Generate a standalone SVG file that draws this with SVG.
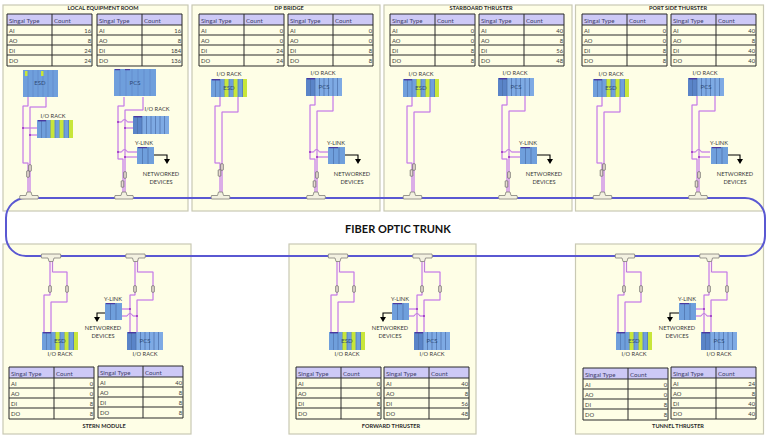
<svg xmlns="http://www.w3.org/2000/svg" xmlns:xlink="http://www.w3.org/1999/xlink" width="768" height="436" viewBox="0 0 768 436">
<style>
text{font-family:Lato,"Liberation Sans",sans-serif;fill:#3a3a3a;font-size:5.7px}
.pn{fill:#fefee6;stroke:#c9c9b4;stroke-width:1.2}
.ti{font-weight:700;font-size:5.6px;text-anchor:middle;fill:#2a2a2a}
.lb{text-anchor:middle}
.h{font-size:6.2px;fill:#40406a}
.c{font-size:5.8px}
.v{font-size:5.8px;text-anchor:end}
.rt{text-anchor:middle;font-size:6px;fill:#2f4a78}
.hd{fill:#cdc9f6}
.gl{fill:none;stroke:#2b2b2b;stroke-width:1}
.halo{fill:none;stroke:#f8d8f8;stroke-width:2}
.wire{fill:none;stroke:#b878d4;stroke-width:.9}
.dot{fill:#9a2cc0}
.res{fill:#eadcd4;stroke:#5c5c5c;stroke-width:.7}
.tee{fill:#f3f1e0;stroke:#807f78;stroke-width:.8}
.trunk{fill:none;stroke:#5a58d2;stroke-width:2}
.arrow{fill:none;stroke:#000;stroke-width:1.1;marker-end:url(#ah)}
.bl{fill:#6f9fdc}.bd{fill:#5a84c8}.bs{fill:#7eaae4}.li{fill:#c8e63a}.tp{fill:#4a3aa0}
</style>
<defs>
<marker id="ah" markerWidth="6" markerHeight="6" refX="1.5" refY="3" orient="auto" markerUnits="userSpaceOnUse" viewBox="0 0 6 6"><path d="M0 0L5 3L0 6Z" fill="#000"/></marker>
<g id="grid">
<rect class="hd" x="0" y="0" width="85" height="11"/>
<path class="gl" d="M0 0H85V52H0ZM0 11H85M0 21H85M0 31H85M0 41H85M45 0V52"/>
</g>
<g id="rack-esd">
<rect class="bl" width="36" height="18"/>
<path d="M4.5 0V18M9 0V18M13.5 0V18M18 0V18M22.5 0V18M27 0V18M31.5 0V18" stroke="#4a6ea8" stroke-width=".6"/>
<rect class="li" x="13.5" width="4" height="18"/><rect class="li" x="22.5" width="4" height="18"/><rect class="li" x="32" width="4" height="18"/>
<rect class="tp" x="1" width="8" height="1.4"/>
</g>
<g id="rack-pcs">
<rect class="bs" width="36" height="18"/>
<rect class="bd" width="9" height="18"/>
<path d="M4.5 0V18M9 0V18M13.5 0V18M18 0V18M22.5 0V18M27 0V18M31.5 0V18" stroke="#4a6ea8" stroke-width=".7"/>
<rect class="tp" x="1" width="8" height="1.4"/>
</g>
<g id="ylink">
<rect class="bl" width="17" height="17"/>
<path d="M5.5 0V17M11 0V17" stroke="#4a6ea8" stroke-width=".7"/>
<rect class="tp" x="1" width="9" height="1.2"/>
</g>
<g id="tee-top"><path class="tee" d="M-9 3.5H-3L-2 0H2L3 3.5H9Q9.8 5.2 9 7H-9Q-9.8 5.2 -9 3.5Z"/></g>
<g id="tee-bot"><path class="tee" d="M-9.5 0H9.5Q10.2 2 9.5 4H3L2 7.5H-2L-3 4H-9.5Q-10.2 2 -9.5 0Z"/></g>
<rect id="res" class="res" x="-1.3" y="-3.2" width="2.6" height="6.4" rx=".6"/>
<path id="d-te1" d="M220 97V106H215V163H220V197"/>
<path id="d-te2" d="M238 97V112H222V197"/>
<path id="d-tp1" d="M315 96V105H310V159H315V197"/>
<path id="d-tp2" d="M333 96V111H317V197"/>
<path id="d-ty" d="M310 152H313.5Q316.5 147 319.5 152H328M317 157H328"/>
<path id="d-be1" d="M337 258V295H331V332"/>
<path id="d-be2" d="M339.5 258V272H354V302H338V332"/>
<path id="d-bp1" d="M422 258V295H417V332"/>
<path id="d-bp2" d="M424.5 258V272H440V300H424V332"/>
<path id="d-by" d="M417 309H409M424 316H420Q417 311 414 316H409"/>
<g id="w-te"><use href="#d-te1" class="halo"/><use href="#d-te2" class="halo"/><use href="#d-te1" class="wire"/><use href="#d-te2" class="wire"/><use href="#res" x="222" y="167"/><use href="#res" x="219.5" y="173"/><use href="#tee-top" x="220.5" y="192"/></g>
<g id="w-tp"><use href="#d-tp1" class="halo"/><use href="#d-tp2" class="halo"/><use href="#d-ty" class="halo"/><use href="#d-tp1" class="wire"/><use href="#d-tp2" class="wire"/><use href="#d-ty" class="wire"/><circle class="dot" cx="310" cy="152" r="1"/><circle class="dot" cx="317" cy="157" r="1"/><use href="#res" x="317" y="175"/><use href="#res" x="314.5" y="184"/><use href="#tee-top" x="316" y="192"/></g>
<g id="w-be"><use href="#d-be1" class="halo"/><use href="#d-be2" class="halo"/><use href="#d-be1" class="wire"/><use href="#d-be2" class="wire"/><use href="#res" x="337" y="289"/><use href="#res" x="354" y="289"/><use href="#tee-bot" x="338" y="254"/></g>
<g id="w-bp"><use href="#d-bp1" class="halo"/><use href="#d-bp2" class="halo"/><use href="#d-by" class="halo"/><use href="#d-bp1" class="wire"/><use href="#d-bp2" class="wire"/><use href="#d-by" class="wire"/><circle class="dot" cx="417" cy="309" r="1"/><circle class="dot" cx="424" cy="316" r="1"/><use href="#res" x="422" y="289"/><use href="#res" x="440" y="289"/><use href="#tee-bot" x="422.5" y="254"/></g>
</defs>
<rect width="768" height="436" fill="#fff"/>

<g id="local-equipment-room">
<rect class="pn" x="3" y="5" width="185" height="206"/>
<text class="ti" x="103" y="10">LOCAL EQUIPMENT ROOM</text>
<g transform="translate(7 14)"><use href="#grid"/><text class="h" x="2" y="8.5">Singal Type</text><text class="h" x="47" y="8.5">Count</text><text class="c" x="2" y="18.5">AI</text><text class="v" x="84" y="18.5">16</text><text class="c" x="2" y="28.5">AO</text><text class="v" x="84" y="28.5">8</text><text class="c" x="2" y="38.5">DI</text><text class="v" x="84" y="38.5">24</text><text class="c" x="2" y="49">DO</text><text class="v" x="84" y="49">24</text></g>
<g transform="translate(97 14)"><use href="#grid"/><text class="h" x="2" y="8.5">Singal Type</text><text class="h" x="47" y="8.5">Count</text><text class="c" x="2" y="18.5">AI</text><text class="v" x="84" y="18.5">16</text><text class="c" x="2" y="28.5">AO</text><text class="v" x="84" y="28.5">8</text><text class="c" x="2" y="38.5">DI</text><text class="v" x="84" y="38.5">184</text><text class="c" x="2" y="49">DO</text><text class="v" x="84" y="49">136</text></g>
</g>
<g id="dp-bridge">
<rect class="pn" x="192" y="5" width="188" height="206"/>
<text class="ti" x="289" y="10">DP BRIDGE</text>
<g transform="translate(199 14)"><use href="#grid"/><text class="h" x="2" y="8.5">Singal Type</text><text class="h" x="47" y="8.5">Count</text><text class="c" x="2" y="18.5">AI</text><text class="v" x="84" y="18.5">0</text><text class="c" x="2" y="28.5">AO</text><text class="v" x="84" y="28.5">0</text><text class="c" x="2" y="38.5">DI</text><text class="v" x="84" y="38.5">24</text><text class="c" x="2" y="49">DO</text><text class="v" x="84" y="49">24</text></g>
<g transform="translate(288 14)"><use href="#grid"/><text class="h" x="2" y="8.5">Singal Type</text><text class="h" x="47" y="8.5">Count</text><text class="c" x="2" y="18.5">AI</text><text class="v" x="84" y="18.5">0</text><text class="c" x="2" y="28.5">AO</text><text class="v" x="84" y="28.5">0</text><text class="c" x="2" y="38.5">DI</text><text class="v" x="84" y="38.5">8</text><text class="c" x="2" y="49">DO</text><text class="v" x="84" y="49">8</text></g>
</g>
<g id="starboard-thruster">
<rect class="pn" x="384" y="5" width="188" height="206"/>
<text class="ti" x="481" y="10">STARBOARD THRUSTER</text>
<g transform="translate(390 14)"><use href="#grid"/><text class="h" x="2" y="8.5">Singal Type</text><text class="h" x="47" y="8.5">Count</text><text class="c" x="2" y="18.5">AI</text><text class="v" x="84" y="18.5">0</text><text class="c" x="2" y="28.5">AO</text><text class="v" x="84" y="28.5">0</text><text class="c" x="2" y="38.5">DI</text><text class="v" x="84" y="38.5">8</text><text class="c" x="2" y="49">DO</text><text class="v" x="84" y="49">8</text></g>
<g transform="translate(479 14)"><use href="#grid"/><text class="h" x="2" y="8.5">Singal Type</text><text class="h" x="47" y="8.5">Count</text><text class="c" x="2" y="18.5">AI</text><text class="v" x="84" y="18.5">40</text><text class="c" x="2" y="28.5">AO</text><text class="v" x="84" y="28.5">8</text><text class="c" x="2" y="38.5">DI</text><text class="v" x="84" y="38.5">56</text><text class="c" x="2" y="49">DO</text><text class="v" x="84" y="49">48</text></g>
</g>
<g id="port-side-thurster">
<rect class="pn" x="575.5" y="5" width="188" height="206"/>
<text class="ti" x="678" y="10">PORT SIDE THURSTER</text>
<g transform="translate(582 14)"><use href="#grid"/><text class="h" x="2" y="8.5">Singal Type</text><text class="h" x="47" y="8.5">Count</text><text class="c" x="2" y="18.5">AI</text><text class="v" x="84" y="18.5">0</text><text class="c" x="2" y="28.5">AO</text><text class="v" x="84" y="28.5">0</text><text class="c" x="2" y="38.5">DI</text><text class="v" x="84" y="38.5">8</text><text class="c" x="2" y="49">DO</text><text class="v" x="84" y="49">8</text></g>
<g transform="translate(671 14)"><use href="#grid"/><text class="h" x="2" y="8.5">Singal Type</text><text class="h" x="47" y="8.5">Count</text><text class="c" x="2" y="18.5">AI</text><text class="v" x="84" y="18.5">40</text><text class="c" x="2" y="28.5">AO</text><text class="v" x="84" y="28.5">8</text><text class="c" x="2" y="38.5">DI</text><text class="v" x="84" y="38.5">40</text><text class="c" x="2" y="49">DO</text><text class="v" x="84" y="49">40</text></g>
</g>
<g id="stern-module">
<rect class="pn" x="3" y="244" width="188" height="190"/>
<text class="ti" x="104" y="428">STERN MODULE</text>
<g transform="translate(9 367)"><use href="#grid"/><text class="h" x="2" y="8.5">Singal Type</text><text class="h" x="47" y="8.5">Count</text><text class="c" x="2" y="18.5">AI</text><text class="v" x="84" y="18.5">0</text><text class="c" x="2" y="28.5">AO</text><text class="v" x="84" y="28.5">0</text><text class="c" x="2" y="38.5">DI</text><text class="v" x="84" y="38.5">8</text><text class="c" x="2" y="49">DO</text><text class="v" x="84" y="49">8</text></g>
<g transform="translate(98 366)"><use href="#grid"/><text class="h" x="2" y="8.5">Singal Type</text><text class="h" x="47" y="8.5">Count</text><text class="c" x="2" y="18.5">AI</text><text class="v" x="84" y="18.5">40</text><text class="c" x="2" y="28.5">AO</text><text class="v" x="84" y="28.5">8</text><text class="c" x="2" y="38.5">DI</text><text class="v" x="84" y="38.5">8</text><text class="c" x="2" y="49">DO</text><text class="v" x="84" y="49">8</text></g>
</g>
<g id="forward-thruster">
<rect class="pn" x="289" y="244" width="187" height="190"/>
<text class="ti" x="391" y="428">FORWARD THRUSTER</text>
<g transform="translate(296 367)"><use href="#grid"/><text class="h" x="2" y="8.5">Singal Type</text><text class="h" x="47" y="8.5">Count</text><text class="c" x="2" y="18.5">AI</text><text class="v" x="84" y="18.5">0</text><text class="c" x="2" y="28.5">AO</text><text class="v" x="84" y="28.5">0</text><text class="c" x="2" y="38.5">DI</text><text class="v" x="84" y="38.5">8</text><text class="c" x="2" y="49">DO</text><text class="v" x="84" y="49">8</text></g>
<g transform="translate(384 367)"><use href="#grid"/><text class="h" x="2" y="8.5">Singal Type</text><text class="h" x="47" y="8.5">Count</text><text class="c" x="2" y="18.5">AI</text><text class="v" x="84" y="18.5">40</text><text class="c" x="2" y="28.5">AO</text><text class="v" x="84" y="28.5">8</text><text class="c" x="2" y="38.5">DI</text><text class="v" x="84" y="38.5">56</text><text class="c" x="2" y="49">DO</text><text class="v" x="84" y="49">48</text></g>
</g>
<g id="tunnel-thruster">
<rect class="pn" x="575.5" y="244" width="188" height="190"/>
<text class="ti" x="678" y="428">TUNNEL THRUSTER</text>
<g transform="translate(583 368)"><use href="#grid"/><text class="h" x="2" y="8.5">Singal Type</text><text class="h" x="47" y="8.5">Count</text><text class="c" x="2" y="18.5">AI</text><text class="v" x="84" y="18.5">0</text><text class="c" x="2" y="28.5">AO</text><text class="v" x="84" y="28.5">0</text><text class="c" x="2" y="38.5">DI</text><text class="v" x="84" y="38.5">8</text><text class="c" x="2" y="49">DO</text><text class="v" x="84" y="49">8</text></g>
<g transform="translate(671 367)"><use href="#grid"/><text class="h" x="2" y="8.5">Singal Type</text><text class="h" x="47" y="8.5">Count</text><text class="c" x="2" y="18.5">AI</text><text class="v" x="84" y="18.5">24</text><text class="c" x="2" y="28.5">AO</text><text class="v" x="84" y="28.5">8</text><text class="c" x="2" y="38.5">DI</text><text class="v" x="84" y="38.5">40</text><text class="c" x="2" y="49">DO</text><text class="v" x="84" y="49">40</text></g>
</g>

<g id="connectors">
<rect id="fiber-trunk-line" class="trunk" x="6" y="198" width="759" height="58" rx="20" ry="20"/>
<!-- local equipment room -->
<path class="halo" d="M28 97V106H23V163H28V197M46 97V107H30V197M23 128H37M30 135H37M124 97V106H118V159H123V197M143 97V110H125V197M118 122H121.5Q124.5 117 127.5 122H133M125 128H133M118 152H121.5Q124.5 147 127.5 152H137M125 157H137"/>
<path class="wire" d="M28 97V106H23V163H28V197M46 97V107H30V197M23 128H37M30 135H37M124 97V106H118V159H123V197M143 97V110H125V197M118 122H121.5Q124.5 117 127.5 122H133M125 128H133M118 152H121.5Q124.5 147 127.5 152H137M125 157H137"/>
<circle class="dot" cx="23" cy="128" r="1"/><circle class="dot" cx="30" cy="135" r="1"/><circle class="dot" cx="118" cy="122" r="1"/><circle class="dot" cx="125" cy="128" r="1"/><circle class="dot" cx="118" cy="152" r="1"/><circle class="dot" cx="125" cy="157" r="1"/>
<use href="#res" x="30" y="168"/><use href="#res" x="28" y="174"/><use href="#res" x="125" y="175"/><use href="#res" x="122.5" y="184"/>
<use href="#tee-top" x="29" y="192"/><use href="#tee-top" x="124" y="192"/>
<path class="arrow" d="M154 155H167V160.5"/>
<!-- dp bridge -->
<use href="#w-te"/><use href="#w-tp"/><path class="arrow" d="M345 155H358V160.5"/>
<!-- starboard -->
<use href="#w-te" transform="translate(192 0)"/><use href="#w-tp" transform="translate(192 0)"/><path class="arrow" d="M537 155H550V160.5"/>
<!-- port side -->
<use href="#w-te" transform="translate(382 0)"/><use href="#w-tp" transform="translate(382 0)"/><path class="arrow" d="M727 155H740V160.5"/>
<!-- stern -->
<use href="#w-be" transform="translate(-287 0)"/><use href="#w-bp" transform="translate(-287 0)"/><path class="arrow" d="M105 313H97V318.5"/>
<!-- forward -->
<use href="#w-be"/><use href="#w-bp"/><path class="arrow" d="M392 313H383V318.5"/>
<!-- tunnel -->
<use href="#w-be" transform="translate(287 0)"/><use href="#w-bp" transform="translate(287 0)"/><path class="arrow" d="M679 313H670V318.5"/>
</g>

<g id="trunk-label"><text x="398" y="233" text-anchor="middle" style="font-size:11px;font-weight:700;fill:#111">FIBER OPTIC TRUNK</text></g>

<g id="ler-esd"><rect class="bl" x="23" y="70" width="35" height="27"/><path d="M28 70V97M33 70V97M38 70V97M43 70V97M48 70V97M53 70V97" stroke="#5a84c8" stroke-width=".6"/><rect class="li" x="25" y="71" width="2.5" height="5"/><rect class="li" x="41" y="71" width="2.5" height="5"/><text class="rt" x="40" y="85">ESD</text></g>
<g id="ler-pcs"><rect class="bl" x="114" y="69" width="42" height="27"/><path d="M120 69V96M126 69V96M132 69V96M138 69V96M144 69V96M150 69V96" stroke="#5a84c8" stroke-width=".6"/><rect class="tp" x="115" y="69" width="5" height="1.2"/><rect class="tp" x="125" y="69" width="5" height="1.2"/><text class="rt" x="135" y="85">PCS</text></g>
<g id="ler-esd-rack"><use href="#rack-esd" x="37" y="120"/><text class="lb" x="53" y="118">I/O RACK</text></g>
<g id="ler-pcs-rack"><use href="#rack-pcs" x="133" y="116"/><text class="lb" x="157" y="111">I/O RACK</text></g>
<g id="ler-ylink"><use href="#ylink" x="137" y="147"/><text class="lb" x="144" y="145">Y-LINK</text><text class="lb" x="161" y="176">NETWORKED</text><text class="lb" x="161" y="184">DEVICES</text></g>

<g id="dp-esd"><use href="#rack-esd" x="211" y="79"/><text class="rt" x="229" y="90">ESD</text><text class="lb" x="229" y="75.5">I/O RACK</text></g>
<g id="dp-pcs"><use href="#rack-pcs" x="306" y="78"/><text class="rt" x="324" y="89">PCS</text><text class="lb" x="323" y="75">I/O RACK</text></g>
<g id="dp-ylink"><use href="#ylink" x="328" y="147"/><text class="lb" x="336" y="145">Y-LINK</text><text class="lb" x="352" y="176">NETWORKED</text><text class="lb" x="352" y="184">DEVICES</text></g>

<g id="stb-esd"><use href="#rack-esd" x="403" y="79"/><text class="rt" x="421" y="90">ESD</text><text class="lb" x="421" y="75.5">I/O RACK</text></g>
<g id="stb-pcs"><use href="#rack-pcs" x="498" y="78"/><text class="rt" x="516" y="89">PCS</text><text class="lb" x="515" y="75">I/O RACK</text></g>
<g id="stb-ylink"><use href="#ylink" x="520" y="147"/><text class="lb" x="528" y="145">Y-LINK</text><text class="lb" x="544" y="176">NETWORKED</text><text class="lb" x="544" y="184">DEVICES</text></g>

<g id="port-esd"><use href="#rack-esd" x="593" y="79"/><text class="rt" x="611" y="90">ESD</text><text class="lb" x="611" y="75.5">I/O RACK</text></g>
<g id="port-pcs"><use href="#rack-pcs" x="688" y="78"/><text class="rt" x="706" y="89">PCS</text><text class="lb" x="705" y="75">I/O RACK</text></g>
<g id="port-ylink"><use href="#ylink" x="711" y="147"/><text class="lb" x="719" y="145">Y-LINK</text><text class="lb" x="735" y="176">NETWORKED</text><text class="lb" x="735" y="184">DEVICES</text></g>

<g id="stern-esd"><use href="#rack-esd" x="42" y="332"/><text class="rt" x="60" y="343">ESD</text><text class="lb" x="60" y="356">I/O RACK</text></g>
<g id="stern-pcs"><use href="#rack-pcs" x="127" y="332"/><text class="rt" x="145" y="343">PCS</text><text class="lb" x="145" y="356">I/O RACK</text></g>
<g id="stern-ylink"><use href="#ylink" x="105" y="303"/><text class="lb" x="113" y="301">Y-LINK</text><text class="lb" x="103" y="330">NETWORKED</text><text class="lb" x="103" y="338">DEVICES</text></g>

<g id="fwd-esd"><use href="#rack-esd" x="329" y="332"/><text class="rt" x="347" y="343">ESD</text><text class="lb" x="347" y="356">I/O RACK</text></g>
<g id="fwd-pcs"><use href="#rack-pcs" x="414" y="332"/><text class="rt" x="432" y="343">PCS</text><text class="lb" x="432" y="356">I/O RACK</text></g>
<g id="fwd-ylink"><use href="#ylink" x="392" y="303"/><text class="lb" x="400" y="301">Y-LINK</text><text class="lb" x="390" y="330">NETWORKED</text><text class="lb" x="390" y="338">DEVICES</text></g>

<g id="tun-esd"><use href="#rack-esd" x="616" y="332"/><text class="rt" x="634" y="343">ESD</text><text class="lb" x="634" y="356">I/O RACK</text></g>
<g id="tun-pcs"><use href="#rack-pcs" x="701" y="332"/><text class="rt" x="719" y="343">PCS</text><text class="lb" x="719" y="356">I/O RACK</text></g>
<g id="tun-ylink"><use href="#ylink" x="679" y="303"/><text class="lb" x="687" y="301">Y-LINK</text><text class="lb" x="677" y="330">NETWORKED</text><text class="lb" x="677" y="338">DEVICES</text></g>
</svg>
